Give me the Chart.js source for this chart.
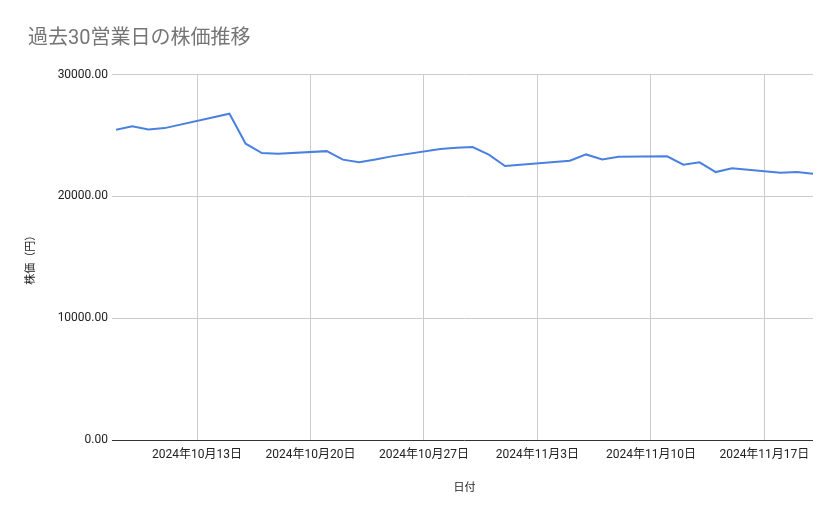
<!DOCTYPE html>
<html><head><meta charset="utf-8">
<script src="https://cdn.jsdelivr.net/npm/chart.js@4.4.1/dist/chart.umd.min.js"></script>
<style>html,body{margin:0;padding:0;background:#fff}#wrap{width:839px;height:519px}</style>
</head><body><div id="wrap"><canvas id="c" width="839" height="519"></canvas></div>
<script>
const chartTitle = "過去30営業日の株価推移";
const xTitle = "日付";
const yTitle = "株価（円）";
const dates = ["2024-10-08","2024-10-09","2024-10-10","2024-10-11","2024-10-15","2024-10-16","2024-10-17","2024-10-18","2024-10-21","2024-10-22","2024-10-23","2024-10-24","2024-10-25","2024-10-28","2024-10-29","2024-10-30","2024-10-31","2024-11-01","2024-11-05","2024-11-06","2024-11-07","2024-11-08","2024-11-11","2024-11-12","2024-11-13","2024-11-14","2024-11-15","2024-11-18","2024-11-19","2024-11-20"];
const prices = [25470,25760,25490,25600,26780,24320,23550,23500,23710,23010,22790,23030,23280,23880,23990,24040,23420,22490,22920,23440,23030,23250,23280,22600,22790,21990,22300,21940,21990,21860];
const xTickDates = ["2024-10-13","2024-10-20","2024-10-27","2024-11-03","2024-11-10","2024-11-17"];
const yTicks = [0,10000,20000,30000];

const DAY = 86400000;
const toDay = s => { const p = s.split("-").map(Number); return Date.UTC(p[0], p[1]-1, p[2]) / DAY; };
const fmt = d => { const dt = new Date(d * DAY); return dt.getUTCFullYear() + "年" + (dt.getUTCMonth()+1) + "月" + dt.getUTCDate() + "日"; };
const FONT = "Roboto, 'Noto Sans CJK JP', sans-serif";

new Chart(document.getElementById("c"), {
  type: "line",
  data: { datasets: [{
    data: dates.map((d, i) => ({ x: toDay(d), y: prices[i] })),
    borderColor: "#4a80e0", borderWidth: 2, pointRadius: 0, tension: 0, fill: false
  }]},
  options: {
    responsive: false, animation: false,
    layout: { padding: { left: 28, right: 26, top: 0, bottom: 20 } },
    plugins: {
      legend: { display: false }, tooltip: { enabled: false },
      title: { display: true, text: chartTitle, align: "start", color: "#757575",
        font: { family: FONT, size: 20, weight: "normal" }, padding: { top: 27, bottom: 23.5 } }
    },
    scales: {
      x: {
        type: "linear", min: toDay(dates[0]), max: toDay(dates[dates.length-1]),
        afterBuildTicks: s => { s.ticks = xTickDates.map(d => ({ value: toDay(d) })); },
        afterFit: s => { s.height = 59; },
        ticks: { callback: v => fmt(v), color: "#222", font: { family: FONT, size: 12 }, maxRotation: 0, autoSkip: false, padding: 8 },
        grid: { color: "#cccccc", drawTicks: false },
        border: { display: false },
        title: { display: true, text: xTitle, color: "#222", font: { family: FONT, size: 11 }, padding: { top: 0, bottom: 4 } }
      },
      y: {
        min: 0, max: 30000,
        afterBuildTicks: s => { s.ticks = yTicks.map(v => ({ value: v })); },
        afterFit: s => { s.width = 116 - 28; },
        ticks: { callback: v => Number(v).toFixed(2), color: "#222", font: { family: FONT, size: 12 }, padding: 4 },
        grid: { color: c => c.tick && c.tick.value === 0 ? "#333333" : "#cccccc", tickLength: 4 },
        border: { display: false },
        title: { display: true, text: yTitle, color: "#222", font: { family: FONT, size: 11 }, padding: { top: -3, bottom: 0 } }
      }
    }
  }
});
</script></body></html>
